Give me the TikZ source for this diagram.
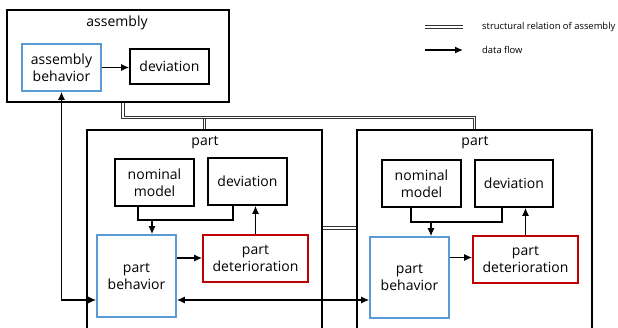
\documentclass[tikz,border=0pt]{standalone}
\usepackage{fontspec}
\setmainfont{Open Sans}
\usetikzlibrary{arrows.meta}
\definecolor{behblue}{HTML}{5B9BD5}
\definecolor{detred}{HTML}{C00000}

\begin{document}
\begin{tikzpicture}[
    x=1pt,y=-1pt,
    every node/.style={font=\fontsize{14}{17}\selectfont,align=center,inner sep=0pt},
    box/.style={draw,line width=1.6pt,minimum width=79pt,minimum height=47pt},
    frame/.style={draw,line width=1.3pt},
    arrow/.style={-{Latex[length=8pt,width=7pt]},line width=1.3pt},
    both/.style={{Latex[length=8pt,width=7pt]}-{Latex[length=8pt,width=7pt]},line width=1.3pt},
    struct/.style={draw=black!80,double=white,double distance=1.4pt,line width=1pt},
    legend/.style={font=\fontsize{9.4}{11}\selectfont,anchor=west}
  ]
    \useasboundingbox (0,0) rectangle (618,327);
    % assembly
    \node (asm) [frame,minimum width=222pt,minimum height=92pt] at (118,56) {};
    \node (asmlbl) at (117,23) {assembly};
    \node (asmbeh) [box,draw=behblue] at (61.5,67.5) {assembly\\behavior};
    \node (asmdev) [box,minimum height=35pt] at (169.5,66.5) {deviation};
    % part 1
    \node (part1) [frame,minimum width=235pt,minimum height=210pt] at (204.5,235) {};
    \node (p1lbl) at (205,143) {part};
    \node (p1nom) [box] at (154.5,182.5) {nominal\\model};
    \node (p1dev) [box] at (247.5,181.5) {deviation};
    \node (p1beh) [box,draw=behblue,minimum height=82pt] at (136.5,276) {part\\behavior};
    \node (p1det) [box,draw=detred,minimum width=105pt] at (255.5,258.5) {part\\deterioration};
    % part 2
    \node (part2) [frame,minimum width=235pt,minimum height=210pt] at (474.5,235) {};
    \node (p2lbl) at (475,143) {part};
    \node (p2nom) [box] at (421.5,183.5) {nominal\\model};
    \node (p2dev) [box,minimum width=78pt] at (514,183.5) {deviation};
    \node (p2beh) [box,draw=behblue,minimum height=81pt] at (409.5,277.5) {part\\behavior};
    \node (p2det) [box,draw=detred,minimum width=105pt] at (525.5,259.5) {part\\deterioration};
    % legend
    \node (lgstruct) [legend] at (482,27) {structural relation of assembly};
    \node (lgflow) [legend] at (482,50) {data flow};
    \draw[struct] ([xshift=-57pt]lgstruct.west) -- ([xshift=-19pt]lgstruct.west);
    \draw[arrow] ([xshift=-57pt]lgflow.west) -- ([xshift=-19pt]lgflow.west);
    % structure
    \draw[struct] (part1.north) -- ++(0,-13);
    \draw[struct] ([xshift=5pt]asm.south) -- ++(0,15) -| (part2.north);
    \draw[struct] ([yshift=7pt]part1.east) -- ([yshift=7pt]part2.west);
    % data flow
    \draw[arrow] (asmbeh.east) -- (asmbeh.east -| asmdev.west);
    \coordinate (p1j) at (152,220);
    \draw[line width=1.3pt] ([xshift=-16.5pt]p1nom.south) |- (p1j) -| ([xshift=-14.5pt]p1dev.south);
    \draw[arrow] (p1j) -- (p1j |- p1beh.north);
    \draw[arrow] (p1det.north) -- (p1det.north |- p1dev.south);
    \draw[arrow] ([yshift=18pt]p1beh.east) -- ([yshift=18pt]p1beh.east -| p1det.west);
    \coordinate (p2j) at (431,222);
    \draw[line width=1.3pt] ([xshift=-10.5pt]p2nom.south) |- (p2j) -| ([xshift=-12pt]p2dev.south);
    \draw[arrow] (p2j) -- (p2j |- p2beh.north);
    \draw[arrow] (p2det.north) -- (p2det.north |- p2dev.south);
    \draw[arrow] ([yshift=20pt]p2beh.east) -- ([yshift=20pt]p2beh.east -| p2det.west);
    \draw[both] (asmbeh.south) |- ([yshift=-24pt]p1beh.west);
    \draw[both] ([yshift=-24pt]p1beh.east) -- ([yshift=-24pt]p1beh.east -| p2beh.west);
  \end{tikzpicture}
\end{document}
